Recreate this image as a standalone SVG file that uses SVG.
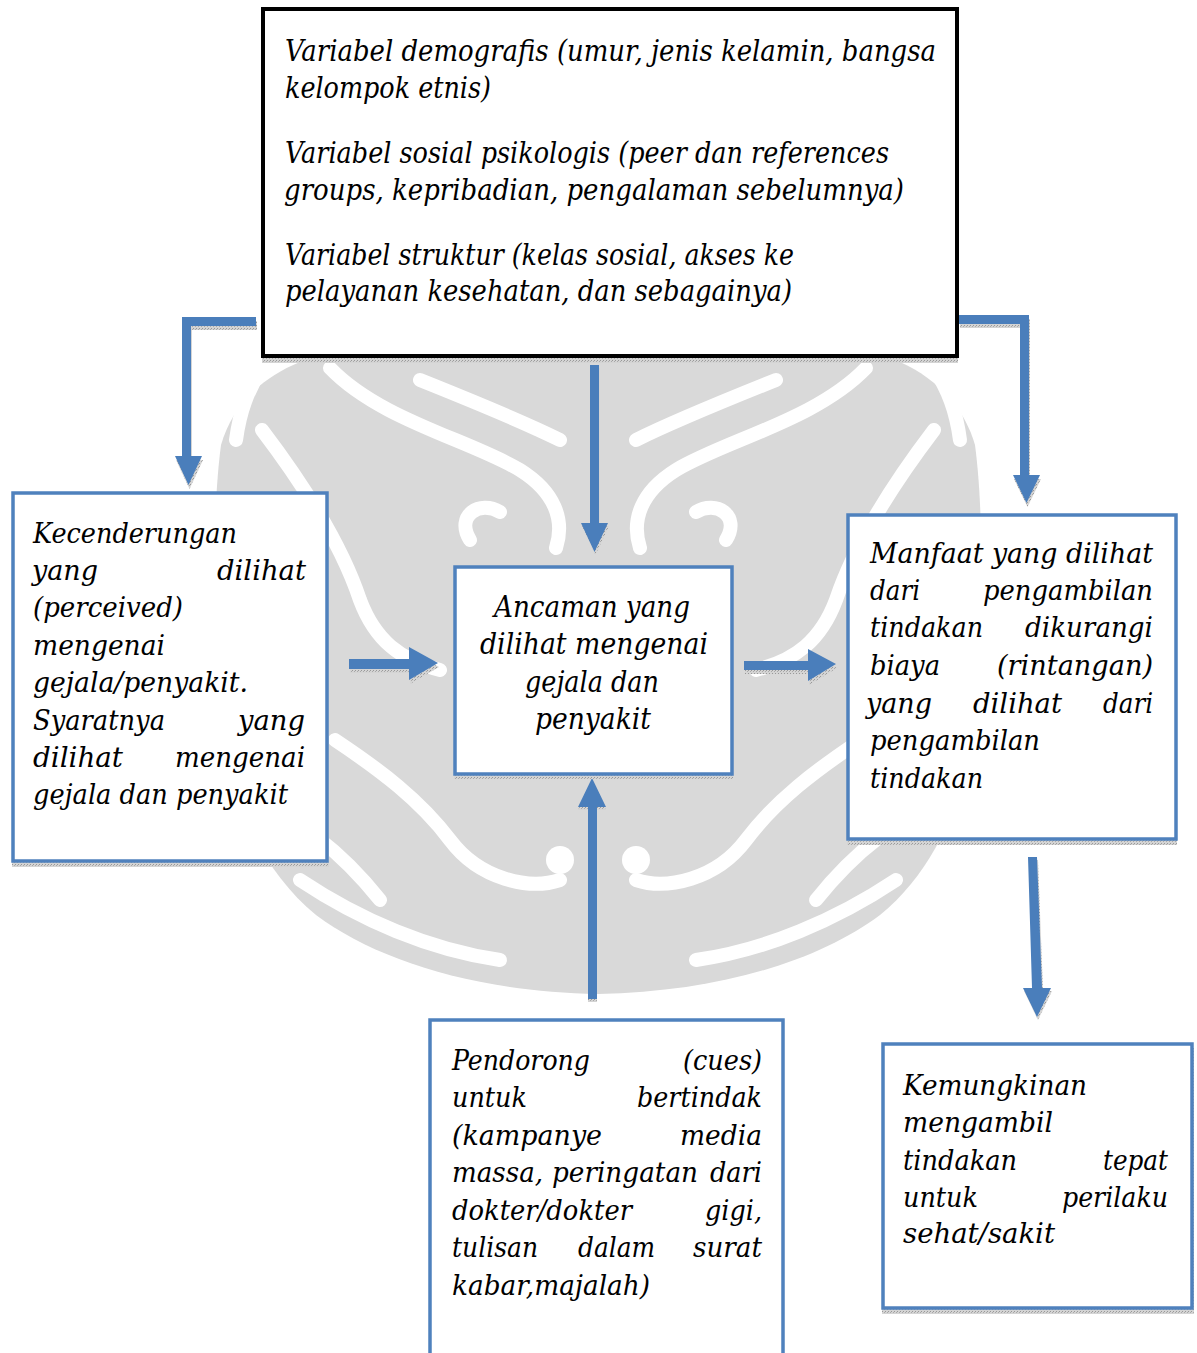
<svg xmlns="http://www.w3.org/2000/svg" width="1197" height="1353" viewBox="0 0 1197 1353">
<style>
.t{font-family:"DejaVu Serif","Liberation Serif",serif;font-style:italic;font-size:27px;fill:#000}
.tc{font-family:"DejaVu Serif","Liberation Serif",serif;font-style:italic;font-size:29px;fill:#000}
.bx{fill:#fff;stroke:#4f81bd;stroke-width:3.5}
.bk{fill:#fff;stroke:#000;stroke-width:4}
.ar{fill:#4a7ebb}
.sh{fill:url(#dots)}
.wm{fill:#d9d9d9}
.ws{fill:none;stroke:#fff;stroke-width:14;stroke-linecap:round}
</style>
<defs>
<pattern id="dots" width="3" height="3" patternUnits="userSpaceOnUse">
<rect width="3" height="3" fill="#d4d4d4"/>
<rect width="1" height="1" fill="#999"/>
<rect x="2" y="1" width="1" height="1" fill="#aaa"/>
</pattern>
</defs>
<rect width="1197" height="1353" fill="#fff"/>
<g id="watermark">
<path class="wm" d="M300,362 L900,362 C940,380 965,410 975,445 C985,520 982,640 975,720 C965,800 935,870 880,915 C820,960 720,992 598,994 C476,992 376,960 316,915 C261,870 231,800 221,720 C214,640 211,520 221,445 C231,410 256,380 300,362 Z"/>
<path class="ws" d="M262,368 C248,390 240,410 236,440"/>
<path class="ws" d="M934,368 C948,390 956,410 960,440"/>
<path class="ws" d="M330,368 C380,420 470,440 520,470 C555,492 565,520 556,548"/>
<path class="ws" d="M866,368 C816,420 726,440 676,470 C641,492 631,520 640,548"/>
<path class="ws" d="M262,430 C300,480 340,540 360,600 C375,640 400,660 440,670"/>
<path class="ws" d="M934,430 C896,480 856,540 836,600 C821,640 796,660 756,670"/>
<path class="ws" d="M470,540 C455,515 480,500 500,512"/>
<path class="ws" d="M726,540 C741,515 716,500 696,512"/>
<path class="ws" d="M335,740 C380,770 420,800 450,840 C480,880 530,890 560,880"/>
<path class="ws" d="M861,740 C816,770 776,800 746,840 C716,880 666,890 636,880"/>
<path class="ws" d="M300,880 C360,920 430,950 500,960"/>
<path class="ws" d="M896,880 C836,920 766,950 696,960"/>
<path class="ws" d="M420,380 C470,400 520,420 560,440"/>
<path class="ws" d="M776,380 C726,400 676,420 636,440"/>
<path class="ws" d="M250,800 C300,820 340,850 380,900"/>
<path class="ws" d="M946,800 C896,820 856,850 816,900"/>
<circle cx="560" cy="860" r="14" fill="#fff"/>
<circle cx="636" cy="860" r="14" fill="#fff"/>
</g>
<g id="connectors">
<path class="sh" transform="translate(1,4)" d="M256,317 L182,317 L182,456 L175,456 L188.5,485 L202,456 L191,456 L191,326 L256,326 Z"/>
<path class="ar" d="M256,317 L182,317 L182,456 L175,456 L188.5,485 L202,456 L191,456 L191,326 L256,326 Z"/>
<path class="sh" transform="translate(1,3)" d="M590,365 L599,365 L599,523 L608,523 L594.5,552 L581,523 L590,523 Z"/>
<path class="ar" d="M590,365 L599,365 L599,523 L608,523 L594.5,552 L581,523 L590,523 Z"/>
<path class="sh" transform="translate(1,4)" d="M959,315 L1029,315 L1029,475 L1040,475 L1026.5,503 L1013,475 L1020,475 L1020,324 L959,324 Z"/>
<path class="ar" d="M959,315 L1029,315 L1029,475 L1040,475 L1026.5,503 L1013,475 L1020,475 L1020,324 L959,324 Z"/>
<path class="sh" transform="translate(1,4)" d="M349,659 L409,659 L409,647 L438,663 L409,680 L409,669 L349,669 Z"/>
<path class="ar" d="M349,659 L409,659 L409,647 L438,663 L409,680 L409,669 L349,669 Z"/>
<path class="sh" transform="translate(1,4)" d="M744,661 L808,661 L808,649 L836,664 L808,681 L808,670 L744,670 Z"/>
<path class="ar" d="M744,661 L808,661 L808,649 L836,664 L808,681 L808,670 L744,670 Z"/>
<path class="sh" transform="translate(1,3)" d="M1028,857 L1037,857 L1042,988 L1051,988 L1037,1017 L1023,988 L1032,988 Z"/>
<path class="ar" d="M1028,857 L1037,857 L1042,988 L1051,988 L1037,1017 L1023,988 L1032,988 Z"/>
<path class="sh" transform="translate(0,3)" d="M588,999 L588,807 L578,807 L592,778 L606,807 L597,807 L597,999 Z"/>
<path class="ar" d="M588,999 L588,807 L578,807 L592,778 L606,807 L597,807 L597,999 Z"/>
</g>
<g id="node-top">
<rect class="sh" x="262" y="14" width="696" height="349"/>
<rect class="bk" x="263" y="9" width="694" height="347"/>
<text class="tc" x="285" y="61" textLength="651" lengthAdjust="spacingAndGlyphs">Variabel demografis (umur, jenis kelamin, bangsa</text>
<text class="tc" x="285" y="98" textLength="206" lengthAdjust="spacingAndGlyphs">kelompok etnis)</text>
<text class="tc" x="285" y="163" textLength="604" lengthAdjust="spacingAndGlyphs">Variabel sosial psikologis (peer dan references</text>
<text class="tc" x="284" y="200" textLength="620" lengthAdjust="spacingAndGlyphs">groups, kepribadian, pengalaman sebelumnya)</text>
<text class="tc" x="285" y="265" textLength="509" lengthAdjust="spacingAndGlyphs">Variabel struktur (kelas sosial, akses ke</text>
<text class="tc" x="285" y="301" textLength="507" lengthAdjust="spacingAndGlyphs">pelayanan kesehatan, dan sebagainya)</text>
</g>
<g id="node-left">
<rect class="sh" x="12" y="497" width="317" height="370"/>
<rect class="bx" x="13" y="493" width="314" height="368"/>
<text class="t" x="33" y="543" textLength="204" lengthAdjust="spacingAndGlyphs">Kecenderungan</text>
<text class="t" x="32" y="580" textLength="66" lengthAdjust="spacingAndGlyphs">yang</text>
<text class="t" x="217" y="580" textLength="89" lengthAdjust="spacingAndGlyphs">dilihat</text>
<text class="t" x="33" y="617" textLength="150" lengthAdjust="spacingAndGlyphs">(perceived)</text>
<text class="t" x="33" y="655" textLength="132" lengthAdjust="spacingAndGlyphs">mengenai</text>
<text class="t" x="33" y="692" textLength="215" lengthAdjust="spacingAndGlyphs">gejala/penyakit.</text>
<text class="t" x="33" y="730" textLength="132" lengthAdjust="spacingAndGlyphs">Syaratnya</text>
<text class="t" x="238" y="730" textLength="67" lengthAdjust="spacingAndGlyphs">yang</text>
<text class="t" x="33" y="767" textLength="90" lengthAdjust="spacingAndGlyphs">dilihat</text>
<text class="t" x="175" y="767" textLength="130" lengthAdjust="spacingAndGlyphs">mengenai</text>
<text class="t" x="33" y="804" textLength="255" lengthAdjust="spacingAndGlyphs">gejala dan penyakit</text>
</g>
<g id="node-middle">
<rect class="sh" x="454" y="571" width="279" height="208"/>
<rect class="bx" x="455" y="567" width="277" height="207"/>
<text class="tc" x="494" y="617" textLength="196" lengthAdjust="spacingAndGlyphs">Ancaman yang</text>
<text class="tc" x="480" y="654" textLength="228" lengthAdjust="spacingAndGlyphs">dilihat mengenai</text>
<text class="tc" x="525" y="692" textLength="134" lengthAdjust="spacingAndGlyphs">gejala dan</text>
<text class="tc" x="535" y="729" textLength="116" lengthAdjust="spacingAndGlyphs">penyakit</text>
</g>
<g id="node-right">
<rect class="sh" x="847" y="519" width="330" height="326"/>
<rect class="bx" x="848" y="515" width="328" height="324"/>
<text class="t" x="870" y="563" textLength="283" lengthAdjust="spacingAndGlyphs">Manfaat yang dilihat</text>
<text class="t" x="870" y="600" textLength="50" lengthAdjust="spacingAndGlyphs">dari</text>
<text class="t" x="983" y="600" textLength="170" lengthAdjust="spacingAndGlyphs">pengambilan</text>
<text class="t" x="870" y="637" textLength="113" lengthAdjust="spacingAndGlyphs">tindakan</text>
<text class="t" x="1025" y="637" textLength="128" lengthAdjust="spacingAndGlyphs">dikurangi</text>
<text class="t" x="870" y="675" textLength="70" lengthAdjust="spacingAndGlyphs">biaya</text>
<text class="t" x="997" y="675" textLength="156" lengthAdjust="spacingAndGlyphs">(rintangan)</text>
<text class="t" x="866" y="713" textLength="66" lengthAdjust="spacingAndGlyphs">yang</text>
<text class="t" x="973" y="713" textLength="89" lengthAdjust="spacingAndGlyphs">dilihat</text>
<text class="t" x="1103" y="713" textLength="50" lengthAdjust="spacingAndGlyphs">dari</text>
<text class="t" x="870" y="750" textLength="170" lengthAdjust="spacingAndGlyphs">pengambilan</text>
<text class="t" x="870" y="788" textLength="113" lengthAdjust="spacingAndGlyphs">tindakan</text>
</g>
<g id="node-cues">
<rect class="bx" x="430" y="1020" width="353" height="360"/>
<text class="t" x="452" y="1070" textLength="138" lengthAdjust="spacingAndGlyphs">Pendorong</text>
<text class="t" x="683" y="1070" textLength="79" lengthAdjust="spacingAndGlyphs">(cues)</text>
<text class="t" x="452" y="1107" textLength="75" lengthAdjust="spacingAndGlyphs">untuk</text>
<text class="t" x="637" y="1107" textLength="125" lengthAdjust="spacingAndGlyphs">bertindak</text>
<text class="t" x="452" y="1145" textLength="150" lengthAdjust="spacingAndGlyphs">(kampanye</text>
<text class="t" x="680" y="1145" textLength="82" lengthAdjust="spacingAndGlyphs">media</text>
<text class="t" x="452" y="1182" textLength="91" lengthAdjust="spacingAndGlyphs">massa,</text>
<text class="t" x="552" y="1182" textLength="146" lengthAdjust="spacingAndGlyphs">peringatan</text>
<text class="t" x="710" y="1182" textLength="52" lengthAdjust="spacingAndGlyphs">dari</text>
<text class="t" x="452" y="1220" textLength="180" lengthAdjust="spacingAndGlyphs">dokter/dokter</text>
<text class="t" x="705" y="1220" textLength="57" lengthAdjust="spacingAndGlyphs">gigi,</text>
<text class="t" x="452" y="1257" textLength="86" lengthAdjust="spacingAndGlyphs">tulisan</text>
<text class="t" x="578" y="1257" textLength="77" lengthAdjust="spacingAndGlyphs">dalam</text>
<text class="t" x="693" y="1257" textLength="69" lengthAdjust="spacingAndGlyphs">surat</text>
<text class="t" x="452" y="1295" textLength="198" lengthAdjust="spacingAndGlyphs">kabar,majalah)</text>
</g>
<g id="node-outcome">
<rect class="sh" x="882" y="1048" width="312" height="266"/>
<rect class="bx" x="883" y="1044" width="309" height="264"/>
<text class="t" x="903" y="1095" textLength="184" lengthAdjust="spacingAndGlyphs">Kemungkinan</text>
<text class="t" x="903" y="1132" textLength="150" lengthAdjust="spacingAndGlyphs">mengambil</text>
<text class="t" x="903" y="1170" textLength="114" lengthAdjust="spacingAndGlyphs">tindakan</text>
<text class="t" x="1103" y="1170" textLength="65" lengthAdjust="spacingAndGlyphs">tepat</text>
<text class="t" x="903" y="1207" textLength="75" lengthAdjust="spacingAndGlyphs">untuk</text>
<text class="t" x="1062" y="1207" textLength="106" lengthAdjust="spacingAndGlyphs">perilaku</text>
<text class="t" x="903" y="1243" textLength="152" lengthAdjust="spacingAndGlyphs">sehat/sakit</text>
</g>
</svg>
